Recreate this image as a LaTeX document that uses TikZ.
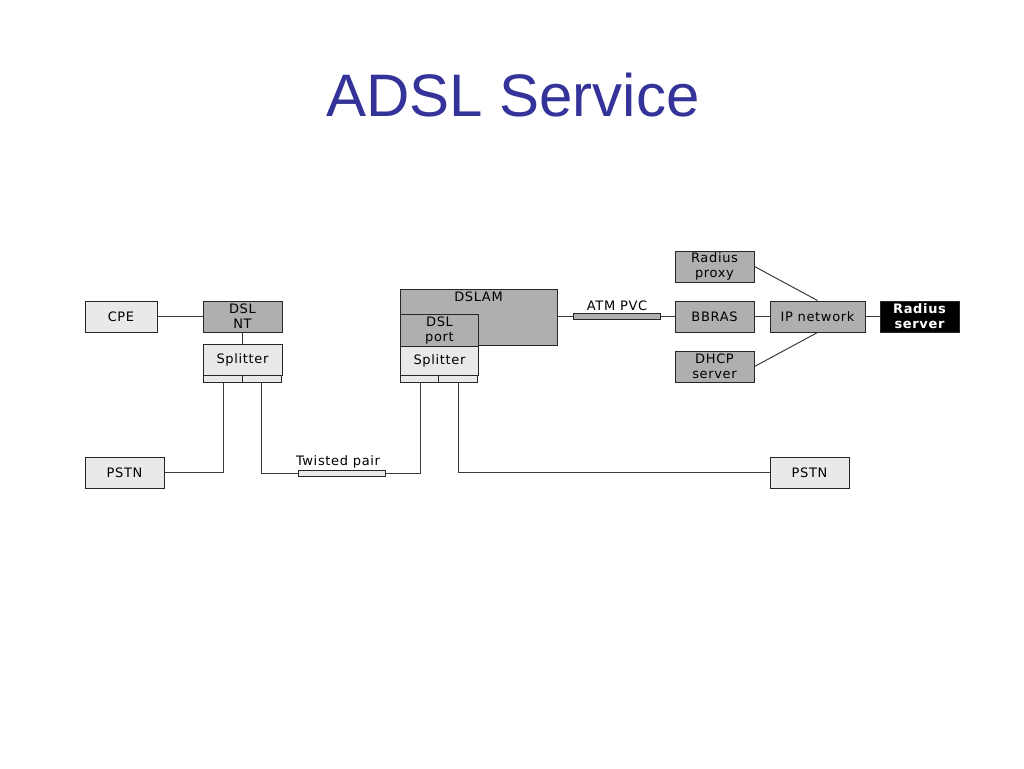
\documentclass[tikz,border=0pt]{standalone}
\usepackage{fontspec}
\setmainfont[LetterSpace=5]{DejaVu Sans}
\newfontfamily\titlefont{Liberation Sans}
\definecolor{titleblue}{RGB}{51,51,153}
\definecolor{lightbox}{RGB}{233,233,233}
\definecolor{darkbox}{RGB}{175,175,175}
\definecolor{wire}{RGB}{60,60,60}
\begin{document}
\begin{tikzpicture}[x=1pt,y=-1pt,
  box/.style={draw=black!85, line width=1pt, inner sep=0pt, align=center,
    font=\fontsize{13}{15}\selectfont, minimum width=79pt, minimum height=31pt},
  lbox/.style={box, fill=lightbox},
  dbox/.style={box, fill=darkbox},
  strip/.style={draw=black!85, line width=1pt, fill=lightbox, inner sep=0pt,
    minimum width=39.5pt, minimum height=7pt},
  tube/.style={draw=black!85, line width=1pt, inner sep=0pt, minimum width=87pt, minimum height=6pt},
  wirestyle/.style={draw=wire, line width=1pt},
  lbl/.style={font=\fontsize{13}{15}\selectfont, inner sep=1pt}
]
\useasboundingbox (0,0) rectangle (1024,768);
\node[text=titleblue, font=\titlefont\fontsize{60}{66}\selectfont] (title) at (513,95) {ADSL Service};

% left side
\node[lbox, minimum width=72pt] (cpe) at (121,316.5) {CPE};
\node[dbox] (dslnt) at (242.5,316.5) {DSL\\NT};
\node[lbox] (splL) at (242.5,359.5) {Splitter};
\node[strip, anchor=north west] (sLL) at (203,375) {};
\node[strip, anchor=north east] (sLR) at (282,375) {};
\node[lbox] (pstnL) at (124.5,472.5) {PSTN};

% DSLAM
\node[dbox, anchor=north west, minimum width=157pt, minimum height=56pt] (dslam) at (400,289) {};
\node[lbl, anchor=north] (dslamlbl) at (478.5,291) {DSLAM};
\node[dbox, anchor=north west, minimum width=78pt, minimum height=32pt] (port) at (400,314) {DSL\\port};
\node[lbox, anchor=north west, minimum width=78pt, minimum height=29pt] (splR) at (400,346) {Splitter};
\node[strip, anchor=north west, minimum width=39pt] (sRL) at (400,375) {};
\node[strip, anchor=north east, minimum width=39pt] (sRR) at (478,375) {};
\node[lbox] (pstnR) at (809.5,472.5) {PSTN};

% twisted pair
\node[tube, fill=lightbox] (tp) at (341.5,473) {};
\node[lbl, anchor=south] (tplbl) at (338,469) {Twisted pair};

% ATM PVC
\node[tube, fill=darkbox] (atm) at (616.5,316) {};
\node[lbl, anchor=south] (atmlbl) at (617,312) {ATM PVC};

% right side
\node[dbox] (proxy) at (714.5,266.5) {Radius\\proxy};
\node[dbox] (bbras) at (714.5,316.5) {BBRAS};
\node[dbox] (dhcp) at (714.5,366.5) {DHCP\\server};
\node[dbox, minimum width=95pt] (ipn) at (817.5,316.5) {IP network};
\node[box, fill=black, text=white, font=\fontsize{13}{15}\selectfont\bfseries] (rad) at (919.5,316.5) {Radius\\server};

% connectors
\draw[wirestyle] (cpe.east) -- (dslnt.west);
\draw[wirestyle] (dslnt.south) -- (splL.north);
\draw[wirestyle] (sLL.south) |- (pstnL.east);
\draw[wirestyle] (sLR.south) |- (tp.west);
\draw[wirestyle] (tp.east) -| (sRL.south);
\draw[wirestyle] (sRR.south) |- (pstnR.west);
\draw[wirestyle] (dslam.east |- atm.west) -- (atm.west);
\draw[wirestyle] (atm.east) -- (bbras.west |- atm.east);
\draw[wirestyle] (bbras.east) -- (ipn.west);
\draw[wirestyle] (ipn.east) -- (rad.west);
\draw[wirestyle] (proxy.east) -- (ipn.north);
\draw[wirestyle] (dhcp.east) -- (ipn.south);
\end{tikzpicture}
\end{document}
